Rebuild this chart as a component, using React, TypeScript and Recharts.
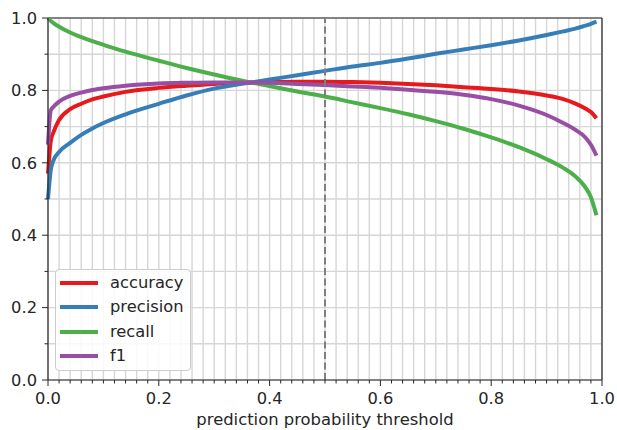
import { CartesianGrid, Line, LineChart, ReferenceLine, XAxis, YAxis } from "recharts";

const THRESHOLDS = [
  0, 0.005, 0.01, 0.02, 0.04, 0.06, 0.08, 0.1, 0.14, 0.2, 0.25, 0.3, 0.35, 0.4,
  0.45, 0.5, 0.55, 0.6, 0.65, 0.7, 0.75, 0.8, 0.85, 0.9, 0.93, 0.95, 0.97, 0.98,
  0.99,
];
const ACCURACY = [
  0.57, 0.66, 0.685, 0.718, 0.748, 0.763, 0.775, 0.783, 0.796, 0.807, 0.813,
  0.818, 0.821, 0.823, 0.824, 0.824, 0.823, 0.821, 0.818, 0.814, 0.809, 0.804,
  0.797, 0.786, 0.776, 0.765, 0.75, 0.74, 0.723,
];
const PRECISION = [
  0.5, 0.58, 0.607, 0.63, 0.655, 0.677, 0.695, 0.71, 0.734, 0.763, 0.786,
  0.805, 0.818, 0.83, 0.842, 0.854, 0.866, 0.876, 0.888, 0.901, 0.913, 0.925,
  0.938, 0.953, 0.963, 0.97, 0.979, 0.984, 0.99,
];
const RECALL = [
  1.0, 0.992, 0.986, 0.976, 0.96, 0.947, 0.936, 0.926, 0.907, 0.882, 0.862,
  0.844, 0.827, 0.812, 0.797, 0.783, 0.767, 0.751, 0.734, 0.715, 0.694, 0.67,
  0.643, 0.61, 0.586, 0.565, 0.532, 0.505, 0.455,
];
const F1 = [
  0.65, 0.745, 0.755, 0.769, 0.785, 0.794, 0.801, 0.806, 0.813, 0.819, 0.821,
  0.822, 0.822, 0.821, 0.818, 0.815, 0.811, 0.807, 0.802, 0.796, 0.788, 0.776,
  0.758, 0.732, 0.71, 0.693, 0.67, 0.65, 0.62,
];

const SERIES = [
  { key: "accuracy", color: "#e41a1c" },
  { key: "precision", color: "#377eb8" },
  { key: "recall", color: "#4daf4a" },
  { key: "f1", color: "#984ea3" },
];

// gridlines every 0.02 on x, every 0.1 on y; labels only on the majors
const X_TICKS = Array.from({ length: 51 }, (_, i) => Math.round(i * 2) / 100);
const Y_TICKS = [0, 0.1, 0.2, 0.3, 0.4, 0.5, 0.6, 0.7, 0.8, 0.9, 1.0];

const data = THRESHOLDS.map((t, i) => ({
  t,
  accuracy: ACCURACY[i],
  precision: PRECISION[i],
  recall: RECALL[i],
  f1: F1[i],
}));

const FONT = "'DejaVu Sans', sans-serif";
const AXIS = "#262626";
const W = 617;
const H = 430;
const M = { top: 18, right: 15, bottom: 0, left: 0 };
const X_AXIS_H = 50;
const Y_AXIS_W = 48;

function XTick(props: any) {
  const { x, y, payload } = props;
  const v = payload.value as number;
  const major = Math.round(v * 100) % 20 === 0;
  const axisY = y - 8;
  return (
    <g>
      <line x1={x} x2={x} y1={axisY} y2={axisY + (major ? 6 : 3.5)} stroke={AXIS} strokeWidth={1} />
      {major && (
        <text x={x} y={axisY + 24} textAnchor="middle" fontSize={16.3} fontFamily={FONT} fill="#262626">
          {v.toFixed(1)}
        </text>
      )}
    </g>
  );
}

function YTick(props: any) {
  const { x, y, payload } = props;
  const v = payload.value as number;
  const major = Math.round(v * 10) % 2 === 0;
  const axisX = x + 8;
  return (
    <g>
      <line x1={axisX - (major ? 6 : 3.5)} x2={axisX} y1={y} y2={y} stroke={AXIS} strokeWidth={1} />
      {major && (
        <text x={axisX - 11} y={y} dy="0.36em" textAnchor="end" fontSize={16.3} fontFamily={FONT} fill="#262626">
          {v.toFixed(1)}
        </text>
      )}
    </g>
  );
}

function MetricLegend() {
  return (
    <div
      style={{
        position: "absolute",
        left: 55,
        top: 269,
        width: 134,
        height: 100,
        border: "1px solid #cccccc",
        borderRadius: 4,
        background: "rgba(255,255,255,0.85)",
        fontFamily: FONT,
        fontSize: 16.3,
        color: "#262626",
      }}
    >
      {SERIES.map((s, i) => (
        <div
          key={s.key}
          style={{
            position: "absolute",
            left: 0,
            top: 1 + i * 24.3,
            height: 24,
            display: "flex",
            alignItems: "center",
          }}
        >
          <span style={{ display: "inline-block", marginLeft: 4, width: 38, height: 4, background: s.color }} />
          <span style={{ marginLeft: 12, lineHeight: "24px" }}>{s.key}</span>
        </div>
      ))}
    </div>
  );
}

export default function App() {
  return (
    <div style={{ position: "absolute", left: 0, top: 0, width: W, height: H, background: "#fff" }}>
      <LineChart width={W} height={H} data={data} margin={M}>
        <CartesianGrid stroke="#d6d6d6" strokeWidth={1.4} />
        <XAxis
          dataKey="t"
          type="number"
          domain={[0, 1]}
          ticks={X_TICKS}
          interval={0}
          tickSize={6}
          tickMargin={2}
          tickLine={false}
          tick={<XTick />}
          axisLine={{ stroke: AXIS, strokeWidth: 1.2 }}
          height={X_AXIS_H}
          label={{
            value: "prediction probability threshold",
            position: "insideBottom",
            offset: 5,
            fontSize: 16.4,
            fontFamily: FONT,
            fill: "#262626",
          }}
        />
        <YAxis
          type="number"
          domain={[0, 1]}
          ticks={Y_TICKS}
          interval={0}
          width={Y_AXIS_W}
          tickSize={6}
          tickMargin={2}
          tickLine={false}
          tick={<YTick />}
          axisLine={{ stroke: AXIS, strokeWidth: 1.2 }}
        />
        <ReferenceLine y={1} stroke={AXIS} strokeWidth={1.2} />
        <ReferenceLine x={1} stroke={AXIS} strokeWidth={1.2} />
        {SERIES.map((s) => (
          <Line
            key={s.key}
            type="monotone"
            dataKey={s.key}
            stroke={s.color}
            strokeWidth={4}
            dot={false}
            isAnimationActive={false}
          />
        ))}
        <ReferenceLine x={0.5} stroke="#7f7f7f" strokeWidth={2} strokeDasharray="7 3.5" />
      </LineChart>
      <MetricLegend />
    </div>
  );
}
